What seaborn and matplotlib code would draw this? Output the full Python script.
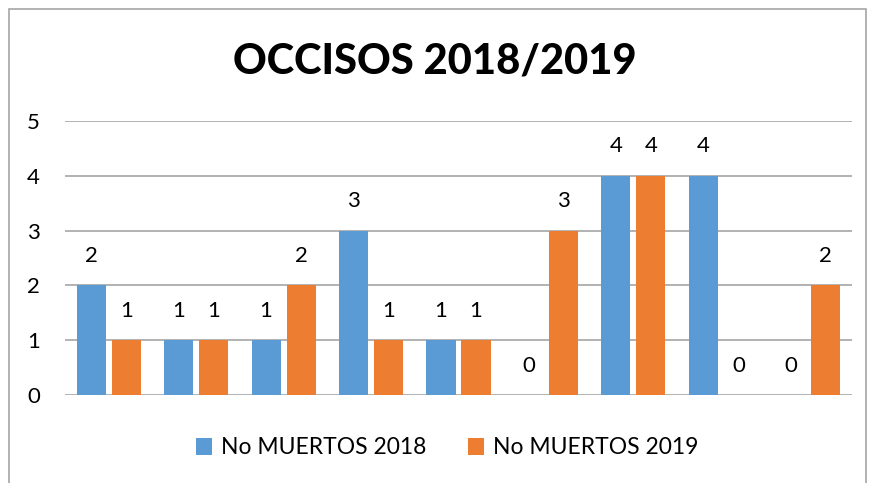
import pandas as pd
import seaborn as sns
import matplotlib.pyplot as plt
from matplotlib.patches import Rectangle

# data
categories = ["1", "2", "3", "4", "5", "6", "7", "8", "9"]
muertos_2018 = [2, 1, 1, 3, 1, 0, 4, 4, 0]
muertos_2019 = [1, 1, 2, 1, 1, 3, 4, 0, 2]
series_names = ["No MUERTOS 2018", "No MUERTOS 2019"]

sns.set_style("white")
plt.rcParams['font.family'] = ['Lato', 'DejaVu Sans']
plt.rcParams['text.color'] = 'black'
plt.rcParams['ytick.color'] = 'black'

df = pd.DataFrame({
    "cat": categories * 2,
    "value": muertos_2018 + muertos_2019,
    "serie": [series_names[0]] * len(categories) + [series_names[1]] * len(categories),
})

fig = plt.figure(figsize=(8.7, 4.83), dpi=100)
ax = fig.add_axes([65 / 870, 1 - 395 / 483, (852 - 65) / 870, (395 - 121) / 483])

sns.barplot(data=df, x="cat", y="value", hue="serie", order=categories,
            hue_order=series_names, palette=["#5B9BD5", "#ED7D31"],
            saturation=1, linewidth=0, width=0.8, gap=0.17, ax=ax, legend=True)

for cont in ax.containers:
    ax.bar_label(cont, labels=[f"{v:.0f}" for v in cont.datavalues],
                 padding=14, fontsize=16, color="black")

ax.set_ylim(0, 5)
ax.set_xlim(-0.5, len(categories) - 0.5)
ax.set_yticks(range(6))
ax.tick_params(axis="y", labelsize=16, length=0, pad=18, labelcolor="black")
ax.set_xticks([])
ax.set_xlabel("")
ax.set_ylabel("")
ax.yaxis.grid(True, color="#A6A6A6", linewidth=1.2)
ax.set_axisbelow(True)
for s in ax.spines.values():
    s.set_visible(False)

fig.text(0.5, 1 - 62 / 483, "OCCISOS 2018/2019", ha="center", va="center",
         fontsize=30, fontweight="black", color="black")

handles, labels = ax.get_legend_handles_labels()
leg = ax.legend(handles, labels, loc="center", bbox_to_anchor=(447 / 870, 1 - 448 / 483),
                bbox_transform=fig.transFigure, ncol=2, frameon=False, fontsize=16.5,
                handlelength=0.7, handleheight=0.7, handletextpad=0.4, columnspacing=1.8)
for t in leg.get_texts():
    t.set_color("black")

# chart border
fig.patches.append(Rectangle((9 / 870, -0.05), (866 - 9) / 870, 1.05 - 9 / 483,
                             transform=fig.transFigure, fill=False,
                             edgecolor="#A6A6A6", linewidth=1.2))

fig.savefig("out.png", dpi=100)
